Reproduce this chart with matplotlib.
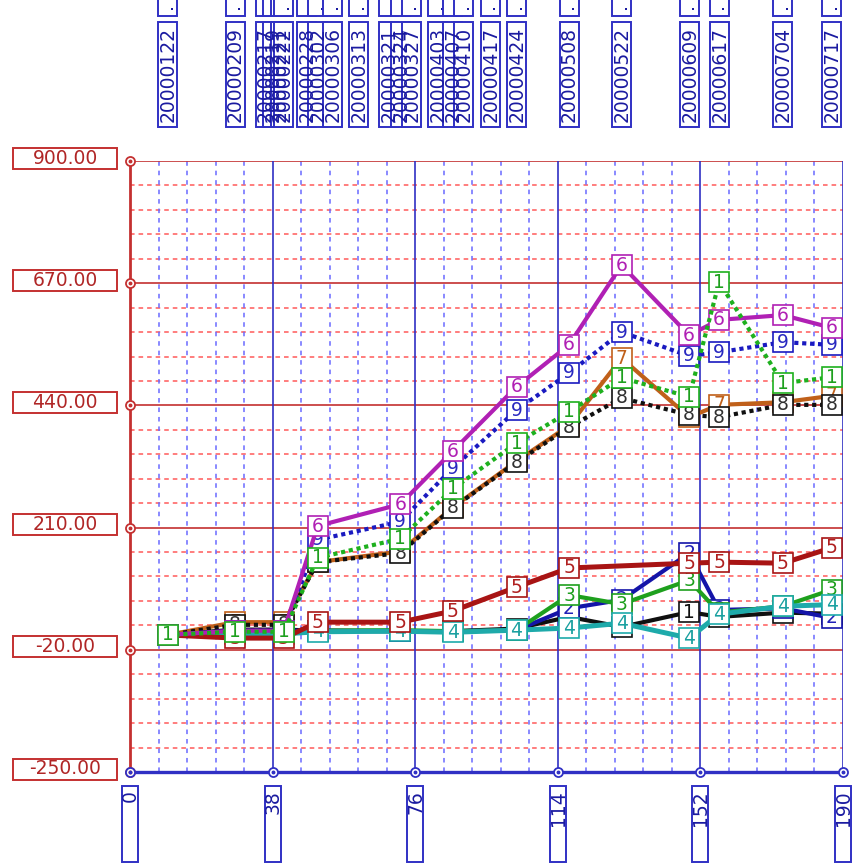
import datetime as dt
import numpy as np
import matplotlib
matplotlib.use("Agg")
import matplotlib.pyplot as plt
from matplotlib.patches import Rectangle
from matplotlib.transforms import IdentityTransform

W, H, DPI = 856, 864, 100

# ---------------------------------------------------------------- data
sample_dates = ["20000122", "20000209", "20000222", "20000302", "20000324",
                "20000407", "20000424", "20000508", "20000522", "20000609",
                "20000617", "20000704", "20000717"]
dates_no_0522 = [d for d in sample_dates if d != "20000522"]

label_dates = ["20000122", "20000209", "20000217", "20000219", "20000221",
               "20000222", "20000228", "20000302", "20000306", "20000313",
               "20000321", "20000324", "20000327", "20000403", "20000407",
               "20000410", "20000417", "20000424", "20000508", "20000522",
               "20000609", "20000617", "20000704", "20000717"]

x_ticks = [0, 38, 76, 114, 152, 190]
y_ticks = [-250, -20, 210, 440, 670, 900]

s1_vals = [8, 18, 18, 16, 15, 15, 20, 42, 23, 51, 42, 50, 48]
s2_vals = [8, 16, 16, 16, 15, 15, 17, 58, 74, 162, 55, 58, 40]
s3_vals = [8, 12, 12, 16, 17, 15, 17, 83, 66, 111, 50, 62, 93]
s4_vals = [8, 10, 10, 14, 15, 13, 17, 21, 30, 2, 47, 62, 65]
s5_vals = [8, 2, 2, 32, 32, 53, 98, 134, 143, 145, 143, 172]
s7_vals = [8, 32, 32, 145, 165, 248, 335, 402, 529, 418, 441, 446, 458]
s8_vals = [8, 27, 27, 145, 162, 247, 333, 399, 454, 422, 418, 441, 441]
s9_vals = [8, 16, 16, 187, 221, 322, 431, 501, 578, 533, 540, 559, 554]
s6_vals = [8, 16, 16, 213, 254, 354, 475, 554, 704, 572, 601, 610, 586]
s10_vals = [8, 14, 14, 153, 189, 283, 369, 428, 492, 456, 672, 482, 493]

DOT = (0, (1, 0.9))
# (tag, dates, values, line colour, text colour, linestyle, linewidth)
series = [
    ("1", sample_dates, s1_vals, "#101010", "#101010", "-", 3.0),
    ("2", sample_dates, s2_vals, "#1414a8", "#2020b8", "-", 3.0),
    ("3", sample_dates, s3_vals, "#1ea01e", "#1ea01e", "-", 3.0),
    ("4", sample_dates, s4_vals, "#1eaaaa", "#1aa0a0", "-", 3.6),
    ("5", dates_no_0522, s5_vals, "#a81414", "#b02020", "-", 3.6),
    ("7", sample_dates, s7_vals, "#c0601a", "#c0601a", "-", 3.0),
    ("8", sample_dates, s8_vals, "#101010", "#303030", DOT, 3.0),
    ("9", sample_dates, s9_vals, "#1a1ac0", "#2828c0", DOT, 3.0),
    ("6", sample_dates, s6_vals, "#b020b4", "#b020b4", "-", 3.0),
    ("1", sample_dates, s10_vals, "#1eb01e", "#1ea01e", DOT, 3.0),
]

RED = "#c43030"
RED_MINOR = "#ff5a5a"
BLUE = "#3030c4"
BLUE_MINOR = "#6a6aff"
TXT_BLUE = "#1a1aa0"
TXT_RED = "#b02626"

origin = dt.date(2000, 1, 12)


def day_index(s):
    return (dt.datetime.strptime(s, "%Y%m%d").date() - origin).days


# ---------------------------------------------------------------- figure
fig = plt.figure(figsize=(W / DPI, H / DPI), dpi=DPI, facecolor="white")
ax = fig.add_axes([130 / W, 1 - 772 / H, 713 / W, 611 / H])
ax.set_xlim(x_ticks[0], x_ticks[-1])
ax.set_ylim(y_ticks[0], y_ticks[-1])
ax.set_axis_off()

ID = IdentityTransform()


def top_px(y_from_top):
    return H - y_from_top


# grid: minor dashed, major solid
y_step = (y_ticks[1] - y_ticks[0]) / 5
x_step = (x_ticks[1] - x_ticks[0]) / 5
for k in range(1, 25):
    y = y_ticks[0] + k * y_step
    if k % 5:
        ax.axhline(y, color=RED_MINOR, lw=1.1, ls=(0, (3, 2.6)), zorder=1)
for k in range(1, 25):
    x = x_ticks[0] + k * x_step
    if k % 5:
        ax.axvline(x, color=BLUE_MINOR, lw=1.1, ls=(0, (3, 3.2)), zorder=1)
for y in y_ticks[1:]:
    ax.axhline(y, color=RED, lw=1.2, zorder=1.2)
for x in x_ticks[1:]:
    ax.axvline(x, color=BLUE, lw=1.2, zorder=1.2)
ax.plot([x_ticks[0]] * 2, [y_ticks[0], y_ticks[-1]], color=RED, lw=2.0,
        zorder=1.5, clip_on=False)
ax.plot([x_ticks[0], x_ticks[-1]], [y_ticks[0]] * 2, color=BLUE, lw=2.4,
        zorder=1.5, clip_on=False)

# tick circles
ax.plot([x_ticks[0]] * len(y_ticks), y_ticks, "o", ms=6.5, mfc="white",
        mec=RED, mew=1.3, zorder=2, clip_on=False)
ax.plot([x_ticks[0]] * len(y_ticks), y_ticks, "o", ms=1.8, color=RED,
        zorder=2.1, clip_on=False)
ax.plot(x_ticks, [y_ticks[0]] * len(x_ticks), "o", ms=6.5, mfc="white",
        mec=BLUE, mew=1.3, zorder=2, clip_on=False)
ax.plot(x_ticks, [y_ticks[0]] * len(x_ticks), "o", ms=1.8, color=BLUE,
        zorder=2.1, clip_on=False)

# series: line + square markers + number labels
z = 3.0
for tag, dts, vals, col, tcol, ls, lw in series:
    xs = [day_index(d) for d in dts]
    ax.plot(xs, vals, color=col, lw=lw, ls=ls, marker="s", ms=14.5,
            mfc="white", mec=col, mew=1.2, zorder=z, clip_on=False)
    for x, v in zip(xs, vals):
        ax.text(x, v, tag, color=tcol, fontsize=13.5, ha="center",
                va="center", family="DejaVu Sans", zorder=z + 0.01)
    z += 0.1

# y-axis value boxes
for y in y_ticks:
    _, py = ax.transData.transform((x_ticks[0], y))
    cy = py + 3
    fig.add_artist(Rectangle((13, cy - 10.5), 104, 21, transform=ID,
                             facecolor="white", edgecolor=RED, lw=1.4))
    fig.text(65, cy, f"{y:.2f}", transform=ID, ha="center", va="center",
             color=TXT_RED, fontsize=13.5, family="DejaVu Sans")

# x-axis value boxes
for x in x_ticks:
    cx, _ = ax.transData.transform((x, y_ticks[0]))
    fig.add_artist(Rectangle((cx - 8, top_px(862)), 16, 76, transform=ID,
                             facecolor="white", edgecolor=BLUE, lw=1.4))
    fig.text(cx + 0.5, top_px(790), str(x), transform=ID, ha="center",
             va="top", rotation=90, color=TXT_BLUE, fontsize=13.5,
             family="DejaVu Sans")

# date boxes along the top
for d in label_dates:
    cx, _ = ax.transData.transform((day_index(d), y_ticks[-1]))
    fig.add_artist(Rectangle((cx - 9.5, top_px(16)), 19, 24, transform=ID,
                             facecolor="white", edgecolor=BLUE, lw=1.4))
    fig.add_artist(Rectangle((cx + 3, top_px(9.5)), 2, 2, transform=ID,
                             facecolor=TXT_BLUE, edgecolor="none"))
    fig.add_artist(Rectangle((cx - 9.5, top_px(127)), 19, 105, transform=ID,
                             facecolor="white", edgecolor=BLUE, lw=1.4))
    fig.text(cx + 0.5, top_px(74.5), d, transform=ID, ha="center",
             va="center", rotation=90, color=TXT_BLUE, fontsize=13.5,
             family="DejaVu Sans")

fig.savefig("out.png", dpi=DPI, facecolor="white")
